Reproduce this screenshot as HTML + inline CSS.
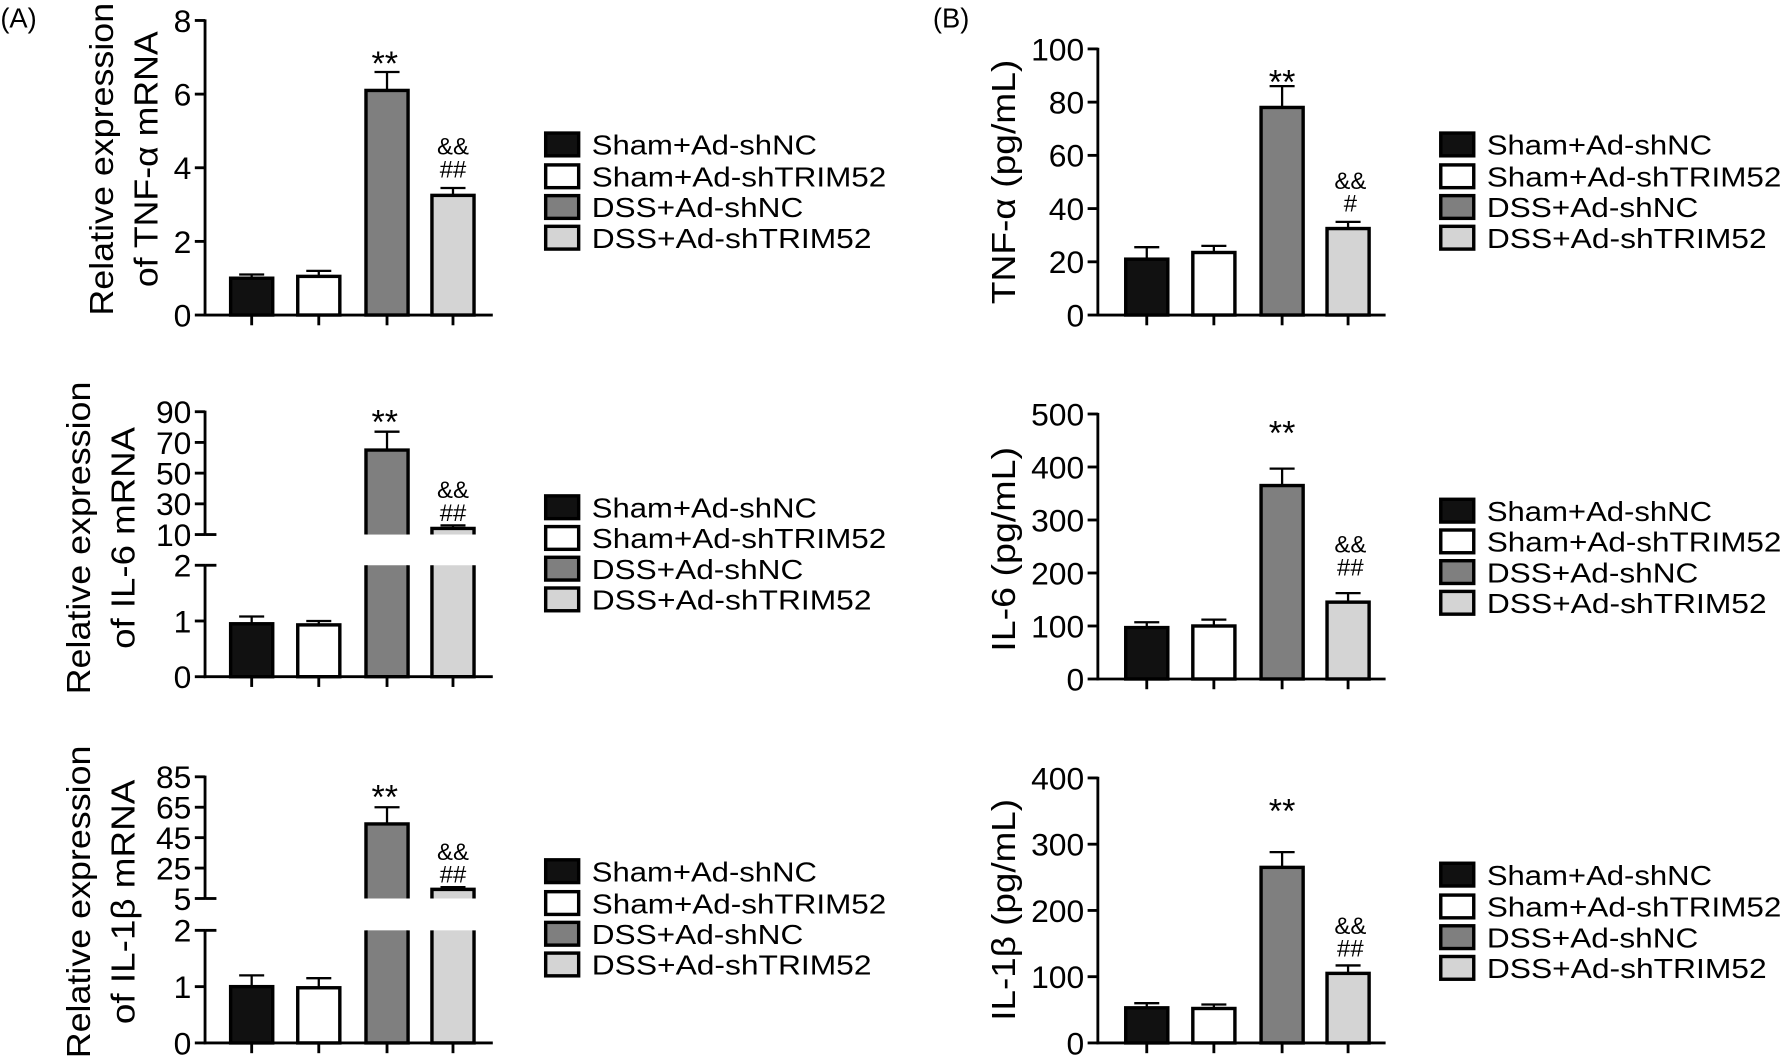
<!DOCTYPE html>
<html><head><meta charset="utf-8"><style>
html,body{margin:0;padding:0;background:#fff;}
svg{display:block;}
text{font-family:"Liberation Sans",sans-serif;fill:#000;}
</style></head><body>
<svg id="s" width="1784" height="1060" viewBox="0 0 1568 932" xmlns="http://www.w3.org/2000/svg"></svg>
<script>
const S=document.getElementById('s');let h='';
const cols=['#111','#fff','#7f7f7f','#d4d4d4'];
function T(x,y,t,sz,anc,extra){h+=`<text x="${x}" y="${y}" font-size="${sz}" text-anchor="${anc||'middle'}" ${extra||''}>${t}</text>`;}
function L(x1,y1,x2,y2,w){h+=`<line x1="${x1}" y1="${y1}" x2="${x2}" y2="${y2}" stroke="#000" stroke-width="${w||2.5}"/>`;}
function R(x,y,w,hh,f){h+=`<rect x="${x}" y="${y}" width="${w}" height="${hh}" fill="${f}" stroke="#000" stroke-width="3"/>`;}
function legend(x,ys){const n=['Sham+Ad-shNC','Sham+Ad-shTRIM52','DSS+Ad-shNC','DSS+Ad-shTRIM52'];
 ys.forEach((y,i)=>{h+=`<rect x="${x+1.5}" y="${y-10}" width="29" height="20" fill="${cols[i]}" stroke="#000" stroke-width="3"/>`;T(x+42,y+9,n[i],24.5,'start','textLength="'+[198,259,186,246][i]+'" lengthAdjust="spacingAndGlyphs"');});}
function ann(x,ys,ts){ts.forEach((t,i)=>T(x,ys[i],t,t=='**'?30:21));}
function tick(x,y,v){T(x,y,v,28,'end');}
function simple(ax,top,bot,max,step,vals,errs,centers){
 const k=(bot-top)/max;const Y=v=>bot-v*k;
 L(ax,top-1,ax,bot+1.2);L(ax-1.2,bot,ax+253,bot);
 for(let v=0;v<=max+1e-6;v+=step){L(ax-9,Y(v),ax,Y(v));tick(ax-12,Y(v)+10,v);}
 centers.forEach((c,i)=>{L(c,bot,c,bot+9);L(c,Y(vals[i]),c,Y(errs[i]),2);L(c-11,Y(errs[i]),c+11,Y(errs[i]),2);R(c-18.5,Y(vals[i]),37,Y(0)-Y(vals[i]),cols[i]);});
}
function broken(ax,utop,ubot,umax,umin,ustep,ltop,lbot,vals,errs,uv,ue,centers){
 const kl=(lbot-ltop)/2;const YL=v=>lbot-v*kl;const ku=(ubot-utop)/(umax-umin);const YU=v=>ubot-(v-umin)*ku;
 L(ax,utop-1,ax,ubot);L(ax,ltop,ax,lbot+1.2);L(ax-1.2,lbot,ax+253,lbot);
 for(let v=umin;v<=umax;v+=ustep){L(ax-9,YU(v),ax,YU(v));tick(ax-12,YU(v)+10,v);}
 L(ax,ubot,ax+10,ubot);L(ax,ltop,ax+10,ltop);
 [0,1,2].forEach(v=>{L(ax-9,YL(v),ax,YL(v));tick(ax-12,YL(v)+10,v);});
 centers.forEach((c,i)=>{L(c,lbot,c,lbot+9);
  if(i<2){L(c,YL(vals[i]),c,YL(errs[i]),2);L(c-11,YL(errs[i]),c+11,YL(errs[i]),2);R(c-18.5,YL(vals[i]),37,lbot-YL(vals[i]),cols[i]);}
  else{const v=uv[i-2],e=ue[i-2];L(c,YU(v),c,YU(e),2);L(c-11,YU(e),c+11,YU(e),2);
   h+=`<rect x="${c-18.5}" y="${YU(v)}" width="37" height="${ubot-YU(v)}" fill="${cols[i]}"/>`;
   h+=`<path d="M${c-18.5} ${ubot} V${YU(v)} H${c+18.5} V${ubot}" fill="none" stroke="#000" stroke-width="3"/>`;
   h+=`<rect x="${c-18.5}" y="${ltop}" width="37" height="${lbot-ltop}" fill="${cols[i]}"/>`;
   h+=`<path d="M${c-18.5} ${ltop} V${lbot} H${c+18.5} V${ltop}" fill="none" stroke="#000" stroke-width="3"/>`;}
 });
}
function ylab(x,y,t,len){h+=`<text transform="translate(${x},${y}) rotate(-90)" font-size="29" text-anchor="middle" textLength="${len}" lengthAdjust="spacingAndGlyphs">${t}</text>`;}
const cA=[221,280,340,398],cB=[1008,1067,1127,1185];
T(0,24,'(A)',24,'start');T(820,24,'(B)',24,'start');
simple(180,18,277,8,2,[1,1.05,6.1,3.25],[1.1,1.2,6.6,3.45],cA);
ylab(99,140,'Relative expression',275);ylab(138,140,'of TNF-α mRNA',225);
ann(338,[66],['**']);ann(398,[136,156],['&amp;&amp;','##']);legend(478,[127,155,182,209]);
broken(180,362,470,90,10,20,497,595,[0.95,0.93],[1.08,1.0],[65,14],[77,16],cA);
ylab(79,473,'Relative expression',275);ylab(118,473,'of IL-6 mRNA',195);
ann(338,[381],['**']);ann(398,[438,458],['&amp;&amp;','##']);legend(478,[446,473,500,527]);
broken(180,683,790,85,5,20,818,917,[1.0,0.98],[1.2,1.15],[54,11],[65,12.5],cA);
ylab(79,793,'Relative expression',275);ylab(118,793,'of IL-1β mRNA',215);
ann(338,[711],['**']);ann(398,[756,776],['&amp;&amp;','##']);legend(478,[766,794,821,848]);
simple(965,43,277,100,20,[21,23.5,78,32.5],[25.5,26,86,35],cB);
ylab(892,160,'TNF-α (pg/mL)',215);
ann(1127,[82],['**']);ann(1187,[166,186],['&amp;&amp;','#']);legend(1265,[127,155,182,209]);
simple(965,364,597,500,100,[97,100,365,145],[107,112,397,162],cB);
ylab(892,483,'IL-6 (pg/mL)',180);
ann(1127,[391],['**']);ann(1187,[486,506],['&amp;&amp;','##']);legend(1265,[449,476,503,530]);
simple(965,684,917,400,100,[53,52,265,105],[60,58,288,117],cB);
ylab(892,800,'IL-1β (pg/mL)',195);
ann(1127,[723],['**']);ann(1187,[821,841],['&amp;&amp;','##']);legend(1265,[769,797,824,851]);
S.innerHTML=h;
</script>
</body></html>
